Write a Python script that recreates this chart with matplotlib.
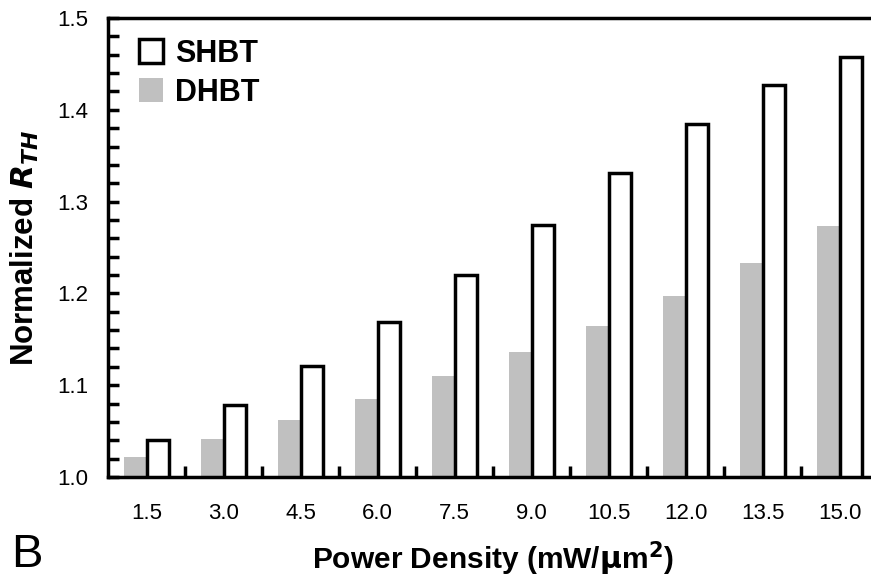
"""
Normalized thermal resistance vs power density, SHBT vs DHBT (panel B).
"""

import numpy as np
import matplotlib
matplotlib.use("Agg")
import matplotlib.pyplot as plt
from matplotlib.ticker import MultipleLocator

plt.rcParams["font.family"] = ["Liberation Sans", "DejaVu Sans"]

# data
power_density = ["1.5", "3.0", "4.5", "6.0", "7.5", "9.0", "10.5", "12.0", "13.5", "15.0"]
shbt = [1.040, 1.078, 1.121, 1.169, 1.220, 1.275, 1.331, 1.384, 1.427, 1.457]
dhbt = [1.022, 1.041, 1.062, 1.085, 1.110, 1.136, 1.165, 1.197, 1.233, 1.273]

W = 0.29
x = np.arange(len(power_density))

fig = plt.figure(figsize=(8.71, 5.84), dpi=100)
ax = fig.add_axes([108 / 871, 1 - 477 / 584, 770 / 871, (477 - 18) / 584])

ax.bar(x - W / 2, np.array(dhbt) - 1.0, W, bottom=1.0, color="#c0c0c0",
       edgecolor="none", label="DHBT", zorder=2)
ax.bar(x + W / 2, np.array(shbt) - 1.0, W, bottom=1.0, facecolor="white",
       edgecolor="black", linewidth=2.5, label="SHBT", zorder=3)

ax.set_xlim(-0.5, len(x) - 0.5)
ax.set_ylim(1.0, 1.5)
ax.yaxis.set_minor_locator(MultipleLocator(0.02))
ax.set_yticks(np.arange(1.0, 1.51, 0.1))
ax.set_yticklabels([f"{v:.1f}" for v in np.arange(1.0, 1.51, 0.1)])

# category labels in the middle, tick marks between categories
ax.set_xticks(x)
ax.set_xticklabels(power_density, fontsize=16)
ax.tick_params(axis="x", which="major", length=0, pad=19)
ax.set_xticks(x[:-1] + 0.5, minor=True)
ax.tick_params(axis="x", which="minor", direction="in", length=8, width=2.5)
ax.tick_params(axis="y", which="major", direction="in", length=8, width=2.5, labelsize=16, pad=14)
ax.tick_params(axis="y", which="minor", direction="in", length=8, width=2.5)

for s in ["left", "top", "bottom"]:
    ax.spines[s].set_linewidth(2.5)
ax.spines["right"].set_visible(False)

ax.set_xlabel("Power Density (mW/$\\mathbf{\\mu}$m$^\\mathbf{2}$)", fontsize=21.5,
              fontweight="bold", labelpad=11)
ax.set_ylabel("Normalized $\\boldsymbol{R}_{\\boldsymbol{TH}}$", fontsize=22.5,
              fontweight="bold", labelpad=12)

handles, labels = ax.get_legend_handles_labels()
leg = ax.legend(handles[::-1], labels[::-1], loc="upper left", frameon=False,
                prop={"weight": "bold", "size": 22}, handlelength=0.8,
                handleheight=0.8, handletextpad=0.4, labelspacing=0.3,
                bbox_to_anchor=(0.016, 0.995), borderaxespad=0.2)

fig.text(11 / 871, 1 - 567 / 584, "B", fontsize=34, ha="left", va="baseline")

fig.savefig("out.png", dpi=100)
